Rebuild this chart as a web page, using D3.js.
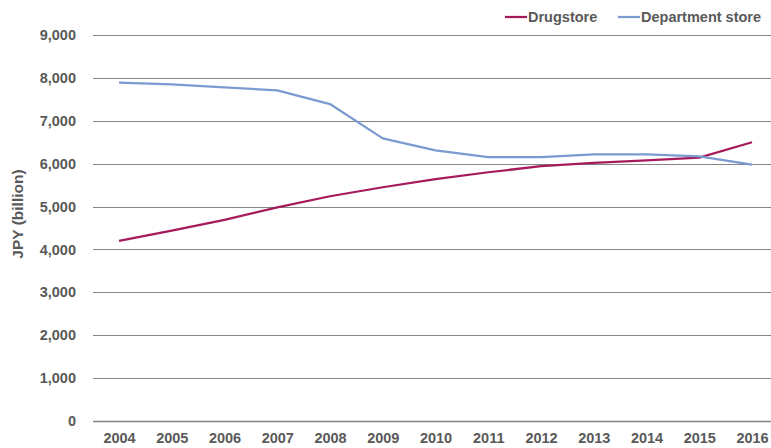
<!DOCTYPE html>
<html>
<head>
<meta charset="utf-8">
<script src="https://cdn.jsdelivr.net/npm/d3@7"></script>
<style>
    body { margin: 0; background: #fff; }
    svg { display: block; font-family: "Liberation Sans", Arial, sans-serif; }
    .tick text { fill: #595959; font-size: 14.5px; font-weight: bold; }
</style>
</head>
<body>
<div id="chart"></div>
<script>
var years = ["2004", "2005", "2006", "2007", "2008", "2009", "2010", "2011", "2012", "2013", "2014", "2015", "2016"];
var drugstore = [4200, 4440, 4690, 4980, 5240, 5450, 5640, 5800, 5940, 6020, 6075, 6140, 6500];
var department = [7890, 7850, 7780, 7710, 7390, 6590, 6310, 6155, 6150, 6215, 6215, 6170, 5980];
var yTicks = [0, 1000, 2000, 3000, 4000, 5000, 6000, 7000, 8000, 9000];
var seriesNames = ["Drugstore", "Department store"];
var seriesColors = ["#A6195A", "#7B9BD0"];

var width = 771, height = 448;

var svg = d3.select("#chart").append("svg")
    .attr("width", width)
    .attr("height", height);

var x = d3.scalePoint()
    .domain(years)
    .range([119, 752]);

var y = d3.scaleLinear()
    .domain([0, 9000])
    .range([421, 35]);

// gridlines
svg.append("g")
    .selectAll("line")
    .data(yTicks)
    .enter()
    .append("line")
    .attr("x1", 93)
    .attr("x2", width)
    .attr("y1", function (d) { return Math.round(y(d)) + 0.5; })
    .attr("y2", function (d) { return Math.round(y(d)) + 0.5; })
    .attr("stroke", "#858585")
    .attr("stroke-width", function (d) { return d === 0 ? 1.5 : 1; });

// y axis labels
var yAxis = svg.append("g")
    .attr("transform", "translate(79,0)")
    .call(d3.axisLeft(y).tickValues(yTicks).tickSize(0).tickPadding(3)
        .tickFormat(d3.format(",")));
yAxis.select(".domain").remove();

// x axis labels
var xAxis = svg.append("g")
    .attr("transform", "translate(0,430)")
    .call(d3.axisBottom(x).tickSize(0).tickPadding(3));
xAxis.select(".domain").remove();

svg.append("text")
    .attr("transform", "translate(23,214) rotate(-90)")
    .attr("text-anchor", "middle")
    .attr("fill", "#595959")
    .style("font-size", "15.5px")
    .style("font-weight", "bold")
    .text("JPY (billion)");

var line = d3.line()
    .x(function (d, i) { return x(years[i]); })
    .y(function (d) { return y(d); });

[drugstore, department].forEach(function (data, i) {
    svg.append("path")
        .datum(data)
        .attr("fill", "none")
        .attr("stroke", seriesColors[i])
        .attr("stroke-width", 2.25)
        .attr("stroke-linejoin", "round")
        .attr("d", line);
});

// legend
var legendX = [505, 618];
var legend = svg.append("g")
    .selectAll("g")
    .data(seriesNames)
    .enter()
    .append("g")
    .attr("transform", function (d, i) { return "translate(" + legendX[i] + ",17)"; });

legend.append("line")
    .attr("x1", 0)
    .attr("x2", 22)
    .attr("stroke", function (d, i) { return seriesColors[i]; })
    .attr("stroke-width", 2.25);

legend.append("text")
    .attr("x", 23)
    .attr("y", 5)
    .attr("fill", "#595959")
    .style("font-size", "14.5px")
    .style("font-weight", "bold")
    .text(function (d) { return d; });
</script>
</body>
</html>
